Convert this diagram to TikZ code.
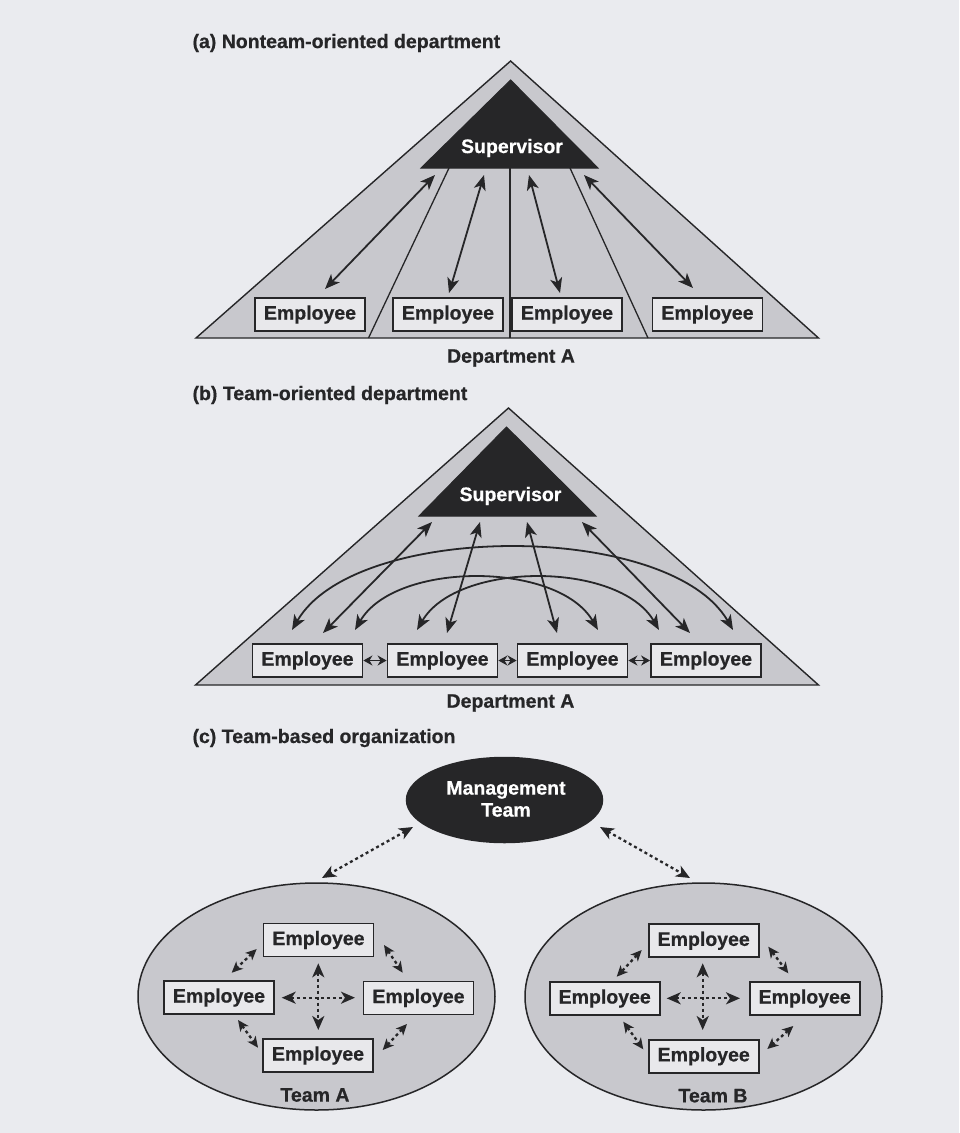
\documentclass[tikz,border=0pt]{standalone}
\usepackage{fontspec}
\setmainfont{Liberation Sans}[BoldFeatures={FakeBold=0.6}]
\usetikzlibrary{arrows.meta,shapes.geometric}
\definecolor{paper}{RGB}{234,235,239}
\definecolor{shade}{RGB}{200,200,205}
\definecolor{boxfill}{RGB}{232,232,235}
\definecolor{ink}{RGB}{38,38,40}
\begin{document}
\begin{tikzpicture}[x=1pt,y=-1pt,
  font=\fontsize{19.5}{22}\selectfont\bfseries,
  every node/.style={text=ink},
  tri/.style={draw=ink, line width=1.4pt, fill=shade, line join=miter},
  sup/.style={fill=ink, draw=ink, line width=1pt},
  divline/.style={draw=ink, line width=1.3pt},
  emp/.style={draw=ink, line width=1.8pt, fill=boxfill, minimum width=110pt, minimum height=33pt, inner sep=0pt},
  arr/.style={draw=ink, line width=1.8pt, {Stealth[length=15pt,width=12pt,inset=4pt]}-{Stealth[length=15pt,width=12pt,inset=4pt]}},
  sarr/.style={draw=ink, line width=1.8pt, {Stealth[length=9pt,width=10pt]}-{Stealth[length=9pt,width=10pt]}},
  darr/.style={draw=ink, line width=2.3pt, dash pattern=on 3pt off 3pt, {Stealth[length=14pt,width=12pt,inset=4pt]}-{Stealth[length=14pt,width=12pt,inset=4pt]}},
  dshort/.style={draw=ink, line width=2.3pt, dash pattern=on 3pt off 3pt, {Stealth[length=11pt,width=10pt,inset=3pt]}-{Stealth[length=11pt,width=10pt,inset=3pt]}},
  oval/.style={draw=ink, line width=1.5pt, fill=shade, ellipse, inner sep=0pt},
  title/.style={anchor=west}
]
\fill[paper] (0,0) rectangle (959,1133);
\useasboundingbox (0,0) rectangle (959,1133);

% ---------------- (a) ----------------
\node[title] (tA) at (189,43) {(a) Nonteam-oriented department};
\draw[tri] (196,338) -- (510.6,61) -- (818.5,338) -- cycle;
\draw[sup] (421,168) -- (510.6,80) -- (598,168) -- cycle;
\node[text=white] (supA) at (512,148) {Supervisor};
\draw[divline] (449,168) -- (368.5,338);
\draw[divline] (510,168) -- (510,338);
\draw[divline] (570,168) -- (648,338);

\node[emp] (a1) at (310,314.5) {Employee};
\node[emp] (a2) at (448,314.5) {Employee};
\node[emp] (a3) at (567,314.5) {Employee};
\node[emp] (a4) at (707.5,314.5) {Employee};
\node (depA) at (511,358) {Department A};

\coordinate (a1t) at (325,289);
\coordinate (a2t) at (449,293);
\coordinate (a3t) at (560,293);
\coordinate (a4t) at (693,288);
\coordinate (sa1) at (435,175);
\coordinate (sa2) at (484,175);
\coordinate (sa3) at (529,175);
\coordinate (sa4) at (584,175);
\draw[arr] (a1t) -- (sa1);
\draw[arr] (a2t) -- (sa2);
\draw[arr] (a3t) -- (sa3);
\draw[arr] (a4t) -- (sa4);

% ---------------- (b) ----------------
\node[title] (tB) at (189,395) {(b) Team-oriented department};
\draw[tri] (195.5,685) -- (508.5,408) -- (818.5,685) -- cycle;
\draw[sup] (419,516) -- (506.5,427) -- (596,516) -- cycle;
\node[text=white] (supB) at (510.5,496) {Supervisor};

\node[emp] (b1) at (307.5,660.5) {Employee};
\node[emp] (b2) at (442.5,660.5) {Employee};
\node[emp] (b3) at (572.5,660.5) {Employee};
\node[emp] (b4) at (706,660.5) {Employee};
\node (depB) at (510.5,703) {Department A};

\draw[sarr] (b1.east) -- (b2.west);
\draw[sarr] (b2.east) -- (b3.west);
\draw[sarr] (b3.east) -- (b4.west);

\coordinate (b1s) at (323,633);
\coordinate (b2s) at (447,633);
\coordinate (b3s) at (557,633);
\coordinate (b4s) at (690,633);
\coordinate (sb1) at (432,522);
\coordinate (sb2) at (480,522);
\coordinate (sb3) at (527,522);
\coordinate (sb4) at (582,522);
\draw[arr] (b1s) -- (sb1);
\draw[arr] (b2s) -- (sb2);
\draw[arr] (b3s) -- (sb3);
\draw[arr] (b4s) -- (sb4);

\coordinate (b1o) at (292,630);
\coordinate (b1i) at (355,630);
\coordinate (b2c) at (417,630);
\coordinate (b3c) at (598,630);
\coordinate (b4i) at (659,630);
\coordinate (b4o) at (733,630);
\draw[arr] (b1o) .. controls (355,521) and (670,521) .. (b4o);
\draw[arr] (b1i) .. controls (395,561) and (558,561) .. (b3c);
\draw[arr] (b2c) .. controls (457,561) and (619,561) .. (b4i);

% ---------------- (c) ----------------
\node[title] (tC) at (189,738) {(c) Team-based organization};
\node[oval, fill=ink, minimum width=196pt, minimum height=85pt] (mgmt) at (504.5,800) {};
\node[text=white, align=center] (mgmtT) at (506,799) {Management\\Team};

\node[oval, minimum width=357pt, minimum height=227pt] (teamA) at (316.5,996.5) {};
\node[oval, minimum width=357pt, minimum height=227pt] (teamB) at (703.5,996.5) {};

\coordinate (mL) at (413,827);
\coordinate (tAt) at (322,878);
\coordinate (mR) at (600,827);
\coordinate (tBt) at (690,878);
\draw[darr] (mL) -- (tAt);
\draw[darr] (mR) -- (tBt);

% Team A
\node[emp] (at) at (318.5,940) {Employee};
\node[emp] (al) at (219,997.5) {Employee};
\node[emp] (ar) at (418.5,998) {Employee};
\node[emp] (ab) at (318,1055.5) {Employee};
\node (teamAL) at (315,1095) {Team A};

\coordinate (aTL1) at (256.7,949);  \coordinate (aTL2) at (231.7,972.7);
\coordinate (aTR1) at (384,945);    \coordinate (aTR2) at (402.7,972.7);
\coordinate (aBL1) at (238,1020);   \coordinate (aBL2) at (258,1047.7);
\coordinate (aBR1) at (407,1024);   \coordinate (aBR2) at (382.7,1050);
\coordinate (aV1) at (318.3,963.3); \coordinate (aV2) at (318.3,1030);
\coordinate (aH1) at (281.7,997.7); \coordinate (aH2) at (355,997.7);
\draw[dshort] (aTL1) -- (aTL2);
\draw[dshort] (aTR1) -- (aTR2);
\draw[dshort] (aBL1) -- (aBL2);
\draw[dshort] (aBR1) -- (aBR2);
\draw[darr] (aV1) -- (aV2);
\draw[darr] (aH1) -- (aH2);

% Team B
\node[emp] (bt) at (703.7,940.8) {Employee};
\node[emp] (bl) at (604.7,998.5) {Employee};
\node[emp] (br) at (804.7,998.5) {Employee};
\node[emp] (bb) at (703.7,1056.3) {Employee};
\node (teamBL) at (713,1095.7) {Team B};

\coordinate (bTL1) at (641.7,950);   \coordinate (bTL2) at (616.7,976.7);
\coordinate (bTR1) at (768.3,946.7); \coordinate (bTR2) at (788.3,973.3);
\coordinate (bBL1) at (623.3,1021.7);\coordinate (bBL2) at (643.3,1049.3);
\coordinate (bBR1) at (793.3,1026);  \coordinate (bBR2) at (767.3,1049);
\coordinate (bV1) at (702.7,963.3);  \coordinate (bV2) at (702.7,1030);
\coordinate (bH1) at (666.7,998.3);  \coordinate (bH2) at (740,998.3);
\draw[dshort] (bTL1) -- (bTL2);
\draw[dshort] (bTR1) -- (bTR2);
\draw[dshort] (bBL1) -- (bBL2);
\draw[dshort] (bBR1) -- (bBR2);
\draw[darr] (bV1) -- (bV2);
\draw[darr] (bH1) -- (bH2);
\end{tikzpicture}
\end{document}
